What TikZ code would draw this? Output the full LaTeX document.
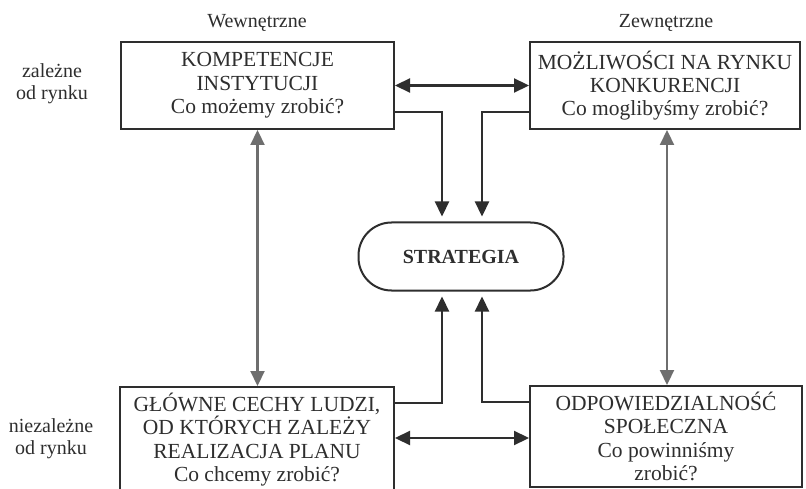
\documentclass[tikz,border=0pt]{standalone}
\usepackage{fontspec}
\setmainfont{Liberation Serif}
\usetikzlibrary{arrows.meta,calc}
\definecolor{ink}{HTML}{2E2E2E}
\definecolor{grayarr}{HTML}{6E6E6E}
\tikzset{
  box/.style={draw=ink, line width=2pt, align=center, inner xsep=0pt,
    font=\fontsize{21.5}{23.3}\selectfont, text=ink},
  lbl/.style={align=center, font=\fontsize{20}{22}\selectfont, text=ink, inner sep=0pt},
  tip/.style={},
  darr/.style={draw=ink, line width=2.2pt, -{Triangle[length=15pt,width=14pt]}},
  ddarr/.style={draw=ink, line width=2.2pt, {Triangle[length=15pt,width=14pt]}-{Triangle[length=15pt,width=14pt]}},
  garr/.style={draw=grayarr, line width=2.2pt, {Triangle[length=15pt,width=14pt]}-{Triangle[length=15pt,width=14pt]}},
  strat/.style={draw=ink, line width=2pt, rounded corners=33pt, minimum width=205pt,
    minimum height=68pt, font=\fontsize{20}{22}\selectfont\bfseries, text=ink}
}
\begin{document}
\begin{tikzpicture}[x=1pt,y=-1pt]
\clip (0,0) rectangle (806,489);
\fill[white] (0,0) rectangle (806,489);
% column / row labels
\node[lbl, anchor=base] (wew) at (257,28) {Wewnętrzne};
\node[lbl, anchor=base] (zew) at (666,28) {Zewnętrzne};
\node[lbl] (zal) at (52,84) {zależne\\od rynku};
\node[lbl] (niezal) at (51,439) {niezależne\\od rynku};
% boxes
\node[box, minimum width=273pt, minimum height=87pt] (tl) at (257.5,85.5)
  {KOMPETENCJE\\INSTYTUCJI\\Co możemy zrobić?};
\node[box, minimum width=270pt, minimum height=87pt] (tr) at (665,85.5)
  {MOŻLIWOŚCI NA RYNKU\\KONKURENCJI\\Co moglibyśmy zrobić?};
\node[box, minimum width=274pt, inner ysep=6pt, anchor=north] (bl) at (257,386)
  {GŁÓWNE CECHY LUDZI,\\OD KTÓRYCH ZALEŻY\\REALIZACJA PLANU\\Co chcemy zrobić?};
\node[box, minimum width=272pt, inner ysep=6pt, anchor=north] (br) at (666,385)
  {ODPOWIEDZIALNOŚĆ\\SPOŁECZNA\\Co powinniśmy\\zrobić?};
\node[strat] (s) at (461,256.5) {STRATEGIA};
% connectors
\draw[ddarr] (tl.east) -- (tl.east -| tr.west);
\draw[ddarr] ([yshift=-52pt]bl.north east) -- ([yshift=-52pt]bl.north east -| br.west);
\draw[darr] ([yshift=-26.5pt]tl.east) -| ([xshift=-19pt,yshift=5pt]s.north);
\draw[darr] ([yshift=-26.5pt]tr.west) -| ([xshift=21pt,yshift=5pt]s.north);
\draw[darr] ([yshift=-17pt]bl.north east) -| ([xshift=-19pt,yshift=-5pt]s.south);
\draw[darr] ([yshift=-17pt]br.north west) -| ([xshift=21pt,yshift=-5pt]s.south);
\draw[garr] (tl.south) -- (tl.south |- bl.north);
\draw[garr] ([xshift=2pt]tr.south) -- ([xshift=2pt]tr.south |- br.north);
\end{tikzpicture}
\end{document}
